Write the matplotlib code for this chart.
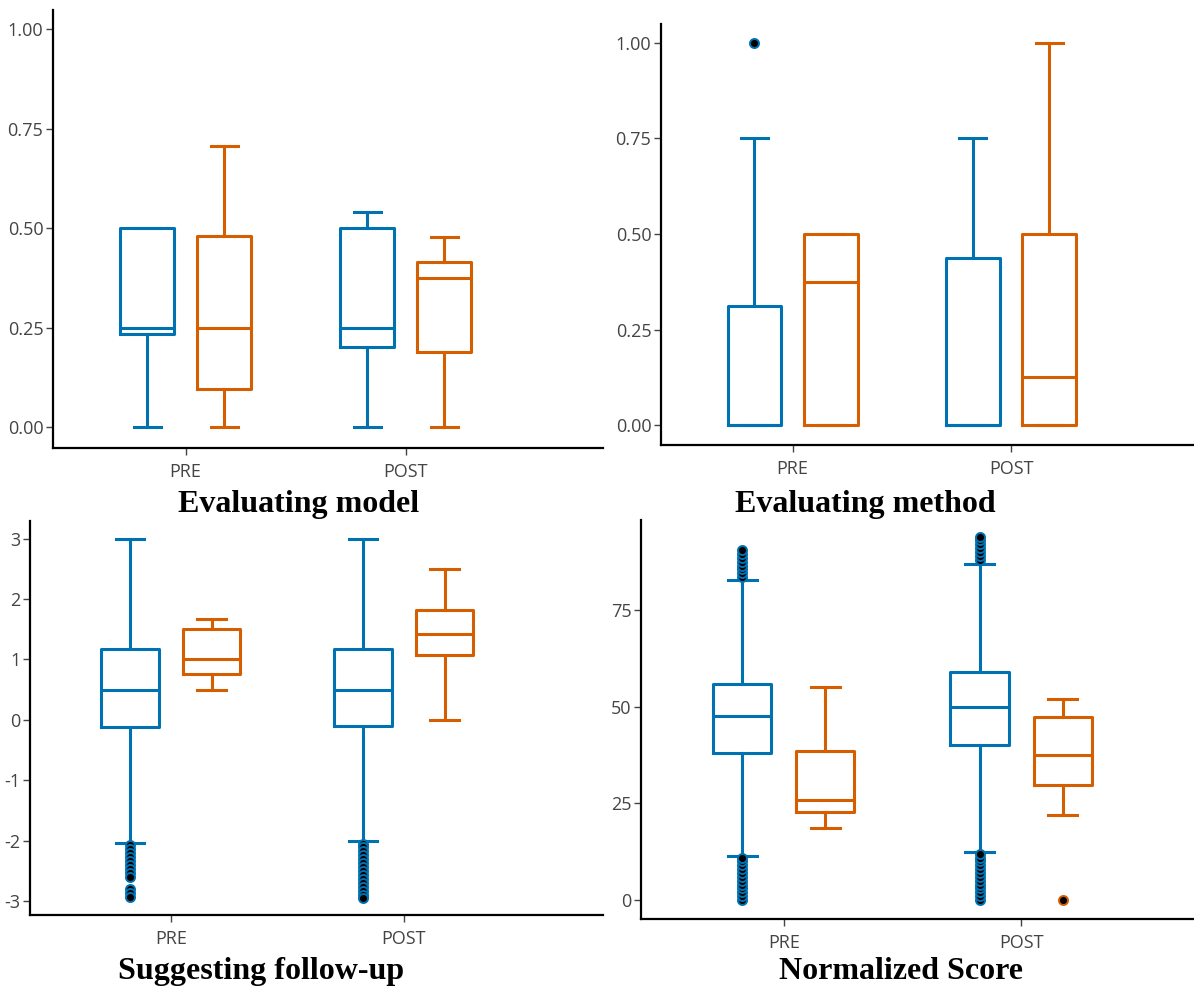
import matplotlib
matplotlib.use("Agg")
import matplotlib.pyplot as plt

W, H = 1194, 988

BLUE = "#0072B2"
ORANGE = "#D55E00"

groups = ["PRE", "POST"]

# five-number summaries per panel: [whislo, q1, med, q3, whishi]
model_blue = [[0.0, 0.234, 0.25, 0.5, 0.5], [0.0, 0.202, 0.25, 0.5, 0.541]]
model_orange = [[0.0, 0.095, 0.25, 0.48, 0.708], [0.0, 0.188, 0.375, 0.416, 0.479]]
model_blue_out = [[], []]
model_orange_out = [[], []]

method_blue = [[0.0, 0.0, 0.0, 0.3125, 0.75], [0.0, 0.0, 0.0, 0.4375, 0.75]]
method_orange = [[0.0, 0.0, 0.375, 0.5, 0.5], [0.0, 0.0, 0.125, 0.5, 1.0]]
method_blue_out = [[1.0], []]
method_orange_out = [[], []]

follow_blue = [[-2.04, -0.126, 0.5, 1.165, 3.0], [-2.0, -0.104, 0.5, 1.165, 3.0]]
follow_orange = [[0.5, 0.75, 1.0, 1.5, 1.667], [0.0, 1.065, 1.418, 1.82, 2.5]]
follow_blue_out = [
    [-2.07, -2.13, -2.2, -2.27, -2.33, -2.4, -2.47, -2.53, -2.6, -2.8, -2.87, -2.93],
    [-2.05, -2.1, -2.17, -2.23, -2.3, -2.37, -2.43, -2.5, -2.57, -2.63, -2.7,
     -2.77, -2.83, -2.9, -2.95],
]
follow_orange_out = [[], []]

score_blue = [[11.5, 38.0, 47.5, 56.0, 82.7], [12.5, 40.0, 50.0, 58.9, 87.0]]
score_orange = [[18.7, 22.8, 26.0, 38.6, 55.1], [21.9, 29.7, 37.5, 47.3, 52.1]]
score_blue_out = [
    [0, 1, 2, 3, 4, 5, 6, 7, 8, 9, 10, 11,
     83.5, 84.5, 85.5, 86.5, 87.5, 88.5, 89.5, 90.5],
    [0, 1, 2, 3, 4, 5, 6, 7, 8, 9, 10, 11, 11.9,
     88, 89, 90, 91, 92, 93, 93.8],
]
score_orange_out = [[], [0.0]]

panels = [
    dict(title="Evaluating model", blue=model_blue, orange=model_orange,
         blue_out=model_blue_out, orange_out=model_orange_out,
         box=(53, 603, 10, 448), xlim=(-0.603, 1.897), ylim=(-0.053, 1.049),
         yticks=[0, 0.25, 0.5, 0.75, 1.0], fmt="{:.2f}", title_xy=(299, 512)),
    dict(title="Evaluating method", blue=method_blue, orange=method_orange,
         blue_out=method_blue_out, orange_out=method_orange_out,
         box=(661, 1194, 24, 445), xlim=(-0.603, 1.838), ylim=(-0.052, 1.049),
         yticks=[0, 0.25, 0.5, 0.75, 1.0], fmt="{:.2f}", title_xy=(865, 512)),
    dict(title="Suggesting follow-up", blue=follow_blue, orange=follow_orange,
         blue_out=follow_blue_out, orange_out=follow_orange_out,
         box=(30, 603, 521, 915), xlim=(-0.604, 1.855), ylim=(-3.23, 3.29),
         yticks=[-3, -2, -1, 0, 1, 2, 3], fmt="{:.0f}", title_xy=(261, 979)),
    dict(title="Normalized Score", blue=score_blue, orange=score_orange,
         blue_out=score_blue_out, orange_out=score_orange_out,
         box=(641, 1194, 520, 919), xlim=(-0.602, 1.729), ylim=(-4.9, 98.3),
         yticks=[0, 25, 50, 75], fmt="{:.0f}", title_xy=(901, 979)),
]

OFFSET = 0.175
BOX_W = 0.245


def make_stats(summary, fliers):
    lo, q1, med, q3, hi = summary
    return dict(whislo=lo, q1=q1, med=med, q3=q3, whishi=hi, fliers=fliers)


def draw_boxes(ax, summaries, outliers, positions, color):
    stats = [make_stats(s, f) for s, f in zip(summaries, outliers)]
    line = dict(color=color, linewidth=2.2)
    ax.bxp(stats, positions=positions, widths=BOX_W, capwidths=BOX_W / 2,
           boxprops=line, whiskerprops=line, capprops=line, medianprops=line,
           flierprops=dict(marker="o", markerfacecolor="black",
                           markeredgecolor=color, markersize=6.5,
                           markeredgewidth=1.4, linestyle="none"),
           showfliers=True, manage_ticks=False)


fig = plt.figure(figsize=(W / 100, H / 100), dpi=100)

for p in panels:
    l, r, t, b = p["box"]
    ax = fig.add_axes([l / W, 1 - b / H, (r - l) / W, (b - t) / H])
    x = list(range(len(groups)))
    draw_boxes(ax, p["blue"], p["blue_out"], [i - OFFSET for i in x], BLUE)
    draw_boxes(ax, p["orange"], p["orange_out"], [i + OFFSET for i in x], ORANGE)

    ax.set_xlim(*p["xlim"])
    ax.set_ylim(*p["ylim"])
    ax.set_xticks(x)
    ax.set_xticklabels(groups)
    ax.set_yticks(p["yticks"])
    ax.set_yticklabels([p["fmt"].format(v) for v in p["yticks"]])

    for side in ["top", "right"]:
        ax.spines[side].set_visible(False)
    for side in ["left", "bottom"]:
        ax.spines[side].set_linewidth(1.6)
        ax.spines[side].set_color("black")
    ax.tick_params(axis="both", length=5, width=1, color="#444444",
                   labelcolor="#444444", labelsize=13)
    ax.tick_params(axis="y", pad=2)
    ax.tick_params(axis="x", pad=6)
    for lab in ax.get_xticklabels() + ax.get_yticklabels():
        lab.set_fontfamily(["Open Sans", "DejaVu Sans"])

    tx, ty = p["title_xy"]
    fig.text(tx / W, 1 - ty / H, p["title"], ha="center", va="baseline",
             fontsize=23, fontweight="bold",
             fontfamily=["Liberation Serif", "DejaVu Serif"])

fig.savefig("out.png", dpi=100)
